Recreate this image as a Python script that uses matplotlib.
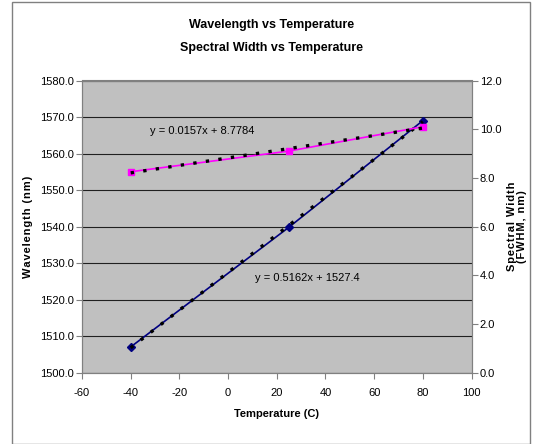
import numpy as np
import matplotlib
matplotlib.use('Agg')
import matplotlib.pyplot as plt
from matplotlib.patches import Rectangle
plt.rcParams['font.family'] = ['Liberation Sans', 'DejaVu Sans']
plt.rcParams['axes.unicode_minus'] = False

temp = [-40, 25, 80]
wavelength = [1507.0, 1539.8, 1569.0]
spec_width = [8.25, 9.10, 10.10]
eq_wl = "y = 0.5162x + 1527.4"
eq_sw = "y = 0.0157x + 8.7784"

def spaced(s):
    return '\u200a'.join(s)

fig = plt.figure(figsize=(5.43, 4.44), dpi=100)
fig.patches.append(Rectangle((12/543, 0), 518/543, 0.995, transform=fig.transFigure,
                             fill=False, ec='#808080', lw=1.0))
ax = fig.add_axes([82/543, 1-372.5/444, 389.5/543, 292/444])
ax2 = ax.twinx()
ax.set_facecolor('#c0c0c0')

ax.set_xlim(-60, 100); ax.set_ylim(1500, 1580)
ax2.set_ylim(0, 12)
ax.set_xticks(range(-60, 101, 20))
ax.set_yticks(np.arange(1500, 1581, 10))
ax2.set_yticks(np.arange(0, 12.1, 2))
ax.set_yticklabels([f'{v:.1f}' for v in np.arange(1500, 1581, 10)])
ax2.set_yticklabels([f'{v:.1f}' for v in np.arange(0, 12.1, 2)])
ax.grid(axis='y', color='#202020', lw=0.8)
ax.set_axisbelow(True)
for a in (ax, ax2):
    for s in a.spines.values():
        s.set_color('#808080')
    a.tick_params(labelsize=8, direction='out', length=4, color='#808080', pad=2)
ax.tick_params(axis='x', pad=7)

# fitted trend lines (dotted)
xf = np.array([min(temp), max(temp)])
p1 = np.polyfit(temp, wavelength, 1)
p2 = np.polyfit(temp, spec_width, 1)
ax.plot(temp, wavelength, color='#000080', lw=1.2, marker='D', ms=4, zorder=3)
ax.plot(xf, np.polyval(p1, xf), color='black', lw=2.4, ls=(0, (1, 2.8)), zorder=4)
ax2.plot(temp, spec_width, color='#ff00ff', lw=1.2, marker='s', ms=5, zorder=3)
ax2.plot(xf, np.polyval(p2, xf), color='black', lw=2.4, ls=(0, (1, 2.8)), zorder=4)

ax.text(-32, 1565.3, eq_sw, fontsize=8)
ax.text(11, 1525.0, eq_wl, fontsize=8)

ax.set_xlabel('Temperature (C)', fontsize=8, fontweight='bold', labelpad=8)
ax.set_ylabel(spaced('Wavelength (nm)'), fontsize=8, fontweight='bold', labelpad=5)
ax2.set_ylabel(spaced('Spectral Width') + '\n' + spaced('(FWHM, nm)'), fontsize=8,
               fontweight='bold', labelpad=4, linespacing=1.0)
fig.text(0.5, 1-25/444, 'Wavelength vs Temperature', ha='center', va='center',
         fontsize=9, fontweight='bold')
fig.text(0.5, 1-48/444, 'Spectral Width vs Temperature', ha='center', va='center',
         fontsize=9, fontweight='bold')

plt.savefig('out.png', dpi=100)
